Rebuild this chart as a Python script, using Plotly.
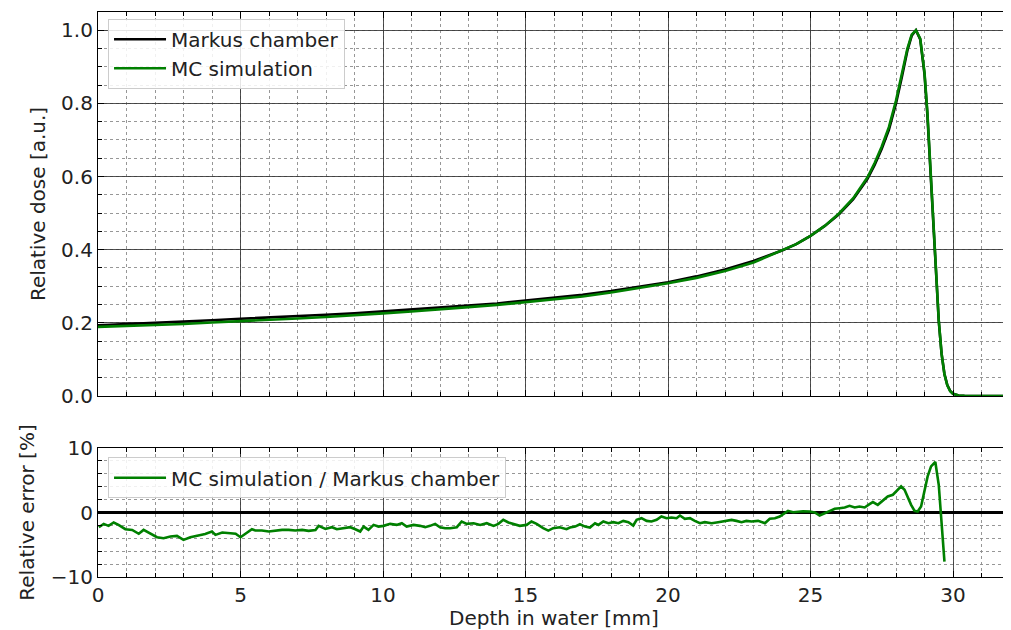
import plotly.graph_objects as go
from plotly.subplots import make_subplots

# ---------------- data ----------------
dose_depth = [0, 1, 2, 3, 4, 5, 6, 7, 8, 9, 10, 11, 12, 13, 14, 15, 16, 17, 18, 19,
              20, 21, 22, 23, 24, 24.5, 25, 25.5, 26, 26.5, 27, 27.25, 27.5, 27.75,
              28, 28.2, 28.4, 28.55, 28.7, 28.85, 29.0, 29.1, 29.2, 29.3, 29.4, 29.5,
              29.6, 29.7, 29.8, 29.9, 30.0, 30.1, 30.2, 30.4, 31, 32]

markus_dose = [0.193, 0.196, 0.200, 0.204, 0.207, 0.211, 0.214, 0.218, 0.222, 0.226,
               0.231, 0.236, 0.241, 0.247, 0.253, 0.261, 0.268, 0.277, 0.287, 0.298,
               0.311, 0.327, 0.346, 0.369, 0.398, 0.415, 0.438, 0.465, 0.497, 0.538,
               0.594, 0.632, 0.676, 0.728, 0.800, 0.870, 0.945, 0.985, 1.000, 0.975,
               0.880, 0.770, 0.630, 0.470, 0.330, 0.205, 0.115, 0.060, 0.030, 0.014,
               0.006, 0.003, 0.0015, 0.0005, 0.0, 0.0]

mc_dose = [0.189, 0.191, 0.194, 0.197, 0.201, 0.204, 0.208, 0.212, 0.216, 0.220,
           0.226, 0.231, 0.236, 0.243, 0.249, 0.256, 0.263, 0.272, 0.283, 0.295,
           0.308, 0.323, 0.342, 0.365, 0.398, 0.415, 0.438, 0.465, 0.499, 0.541,
           0.598, 0.637, 0.682, 0.735, 0.808, 0.878, 0.950, 0.988, 1.000, 0.977,
           0.885, 0.778, 0.640, 0.478, 0.335, 0.207, 0.115, 0.059, 0.029, 0.013,
           0.006, 0.003, 0.0015, 0.0005, 0.0, 0.0]

err_depth = [0.03, 0.2, 0.37, 0.55, 0.72, 0.96, 1.2, 1.43, 1.6, 1.83, 2.07, 2.3, 2.54,
             2.77, 3.0, 3.24, 3.47, 3.76, 4.0, 4.12, 4.36, 4.6, 4.83, 5.0, 5.17, 5.4,
             5.52, 5.75, 5.99, 6.22, 6.46, 6.69, 6.92, 7.16, 7.39, 7.63, 7.74, 7.98,
             8.21, 8.38, 8.62, 8.85, 9.03, 9.2, 9.32, 9.49, 9.67, 9.84, 10.02, 10.25,
             10.48, 10.66, 10.83, 11.07, 11.3, 11.48, 11.65, 11.83, 12.0, 12.18, 12.36,
             12.59, 12.76, 12.94, 13.18, 13.41, 13.64, 13.88, 14.05, 14.22, 14.4,
             14.63, 14.8, 15.04, 15.21, 15.39, 15.62, 15.8, 15.97, 16.2, 16.44, 16.56,
             16.74, 16.91, 17.09, 17.26, 17.44, 17.56, 17.73, 17.91, 18.08, 18.26,
             18.43, 18.61, 18.78, 18.9, 19.07, 19.25, 19.42, 19.6, 19.77, 19.95,
             20.12, 20.3, 20.42, 20.59, 20.77, 20.94, 21.12, 21.29, 21.53, 21.76,
             21.99, 22.23, 22.4, 22.58, 22.75, 22.93, 23.16, 23.4, 23.57, 23.75,
             23.92, 24.1, 24.21, 24.39, 24.56, 24.74, 24.97, 25.15, 25.32, 25.5,
             25.67, 25.85, 26.02, 26.2, 26.37, 26.55, 26.72, 26.9, 27.07, 27.19,
             27.36, 27.54, 27.71, 27.89, 28.0, 28.18, 28.3, 28.41, 28.53, 28.65,
             28.76, 28.88, 29.0, 29.11, 29.23, 29.38, 29.5, 29.58, 29.64, 29.7]

rel_error = [-2.28, -1.76, -2.07, -1.55, -1.92, -2.59, -2.7, -3.3, -2.7, -3.2, -3.83,
             -3.99, -3.73, -3.63, -4.25, -3.83, -3.63, -3.32, -2.95, -3.47, -3.11,
             -3.2, -3.3, -3.83, -3.3, -2.59, -2.8, -2.8, -2.95, -2.8, -2.7, -2.7,
             -2.8, -2.7, -2.85, -2.7, -2.07, -2.54, -2.28, -2.59, -2.43, -2.28,
             -2.59, -2.95, -2.18, -2.7, -1.92, -2.18, -2.07, -1.76, -1.92, -1.66,
             -2.18, -1.92, -2.07, -2.28, -2.07, -1.76, -2.28, -2.43, -2.43, -2.28,
             -1.4, -1.76, -1.66, -1.92, -1.66, -2.07, -1.76, -1.14, -1.55, -1.92,
             -2.07, -1.92, -1.4, -1.76, -2.43, -2.8, -2.43, -2.28, -2.59, -2.33,
             -2.18, -1.82, -2.18, -2.33, -1.66, -1.92, -1.4, -1.66, -1.5, -1.66,
             -1.3, -1.5, -2.02, -1.14, -0.88, -1.3, -1.4, -1.14, -0.62, -0.88,
             -0.78, -0.88, -0.47, -0.98, -0.88, -1.3, -1.66, -1.5, -1.66, -1.5,
             -1.3, -1.14, -1.3, -1.5, -1.3, -1.4, -1.3, -1.66, -0.98, -0.88,
             -0.62, -0.1, 0.26, 0.05, 0.16, 0.2, 0.16, 0.0, -0.47, -0.1,
             0.16, 0.57, 0.67, 0.78, 1.04, 0.78, 0.93, 0.78, 1.3, 1.61,
             1.19, 1.81, 2.49, 2.75, 3.27, 4.04, 3.52, 2.33, 1.19, 0.26,
             0.16, 0.93, 3.27, 5.6, 7.15, 7.83, 4.3, -0.36, -3.99, -7.62]

x_ticks = [0, 5, 10, 15, 20, 25, 30]
dose_ticks = [0.0, 0.2, 0.4, 0.6, 0.8, 1.0]
err_ticks = [-10, 0, 10]

# ---------------- figure ----------------
FONT = "DejaVu Sans"
FS = 20
GREEN = "#008000"
TXT = "#222"

fig = make_subplots(rows=2, cols=1, shared_xaxes=True)

fig.add_trace(go.Scatter(x=dose_depth, y=markus_dose, mode="lines", name="Markus chamber",
                         line=dict(color="black", width=2.6), legend="legend"), row=1, col=1)
fig.add_trace(go.Scatter(x=dose_depth, y=mc_dose, mode="lines", name="MC simulation",
                         line=dict(color=GREEN, width=2.6), legend="legend"), row=1, col=1)
fig.add_trace(go.Scatter(x=err_depth, y=rel_error, mode="lines",
                         name="MC simulation / Markus chamber",
                         line=dict(color=GREEN, width=2.6), legend="legend2"), row=2, col=1)

common = dict(showline=True, linecolor="black", linewidth=1.2, mirror="allticks",
              ticks="inside", ticklen=6, tickwidth=1, tickcolor="black",
              tickfont=dict(family=FONT, size=FS, color=TXT), zeroline=False,
              showgrid=True, gridcolor="rgba(50,50,50,0.85)", gridwidth=1,
              automargin=False)

def minor(dt):
    return dict(dtick=dt, ticks="inside", ticklen=3.5, tickwidth=0.8, tickcolor="black",
                showgrid=True, gridcolor="rgba(140,140,140,0.9)", griddash="dot",
                gridwidth=1)

fig.update_xaxes(range=[0, 32], tickvals=x_ticks, minor=minor(1), **common)
fig.update_xaxes(showticklabels=False, row=1, col=1)
fig.update_xaxes(title=dict(text="Depth in water [mm]", font=dict(family=FONT, size=FS, color=TXT),
                            standoff=10), row=2, col=1)

fig.update_yaxes(range=[0, 1.05], tickvals=dose_ticks, tickformat=".1f", minor=minor(0.05),
                 title=dict(text="Relative dose [a.u.]", font=dict(family=FONT, size=FS, color=TXT),
                            standoff=10), row=1, col=1, **common)
c2 = dict(common)
c2["zeroline"] = True
fig.update_yaxes(range=[-10, 10], tickvals=err_ticks, minor=minor(2),
                 zerolinecolor="black", zerolinewidth=2.6,
                 title=dict(text="Relative error [%]", font=dict(family=FONT, size=FS, color=TXT),
                            standoff=10), row=2, col=1, **c2)

legend_style = dict(bgcolor="rgba(255,255,255,0.85)", bordercolor="#cccccc", borderwidth=1,
                    font=dict(family=FONT, size=FS, color=TXT), xanchor="left", yanchor="top",
                    tracegroupgap=0, itemwidth=52)

# the page body adds an 8 px offset, so the figure is sized/margined to land the
# plot areas where the reference has them
fig.update_layout(
    width=1003, height=622,
    margin=dict(l=90, r=1, t=4, b=53),
    paper_bgcolor="white", plot_bgcolor="white",
    font=dict(family=FONT, size=FS, color=TXT),
    xaxis=dict(domain=[0, 1]),
    yaxis=dict(domain=[0.3204, 1.0]),
    xaxis2=dict(domain=[0, 1]),
    yaxis2=dict(domain=[0.0, 0.2283]),
    legend=dict(x=0.011, y=0.988, **legend_style),
    legend2=dict(x=0.011, y=0.212, **legend_style),
    showlegend=True,
)

fig.write_html("out.html")
